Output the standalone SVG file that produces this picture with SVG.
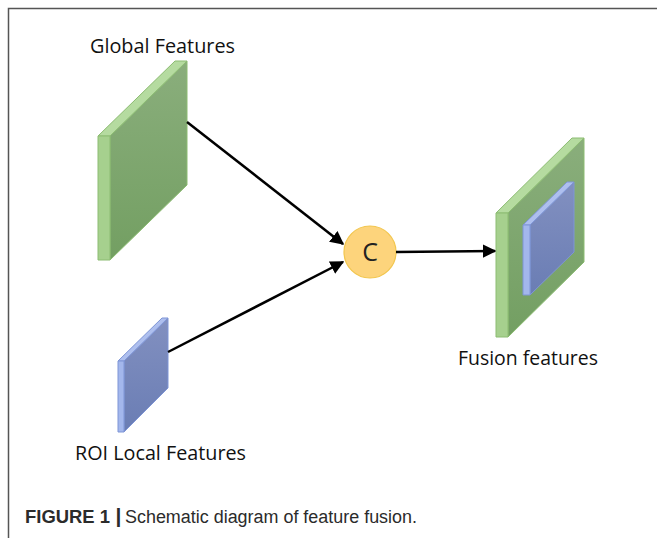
<svg xmlns="http://www.w3.org/2000/svg" width="657" height="538" viewBox="0 0 657 538">
  <style>
    .lbl { font-family: "Open Sans", "Liberation Sans", Arial, sans-serif; font-size: 20.5px; fill: #111; }
    .front-g { fill: #a6d08e; stroke: #8cbc72; stroke-width: 1; }
    .top-g { fill: #b5dba0; stroke: #8cbc72; stroke-width: 1; }
    .side-g { fill: url(#gSide); stroke: #8cbc72; stroke-width: 1; }
    .front-b { fill: #a3b7ec; stroke: #7e95d6; stroke-width: 1; }
    .top-b { fill: #aebfee; stroke: #7e95d6; stroke-width: 1; }
    .side-b { fill: url(#bSide); stroke: #7e95d6; stroke-width: 1; }
    .conn { stroke: #000; stroke-width: 2.5; fill: none; marker-end: url(#arrow); }
  </style>
  <defs>
    <linearGradient id="gSide" x1="0" y1="0" x2="0" y2="1">
      <stop offset="0" stop-color="#8aae7c"/>
      <stop offset="1" stop-color="#739f62"/>
    </linearGradient>
    <linearGradient id="bSide" x1="0" y1="0" x2="0" y2="1">
      <stop offset="0" stop-color="#8290c0"/>
      <stop offset="1" stop-color="#6a7db4"/>
    </linearGradient>
    <marker id="arrow" viewBox="0 0 10 10" refX="9" refY="5" markerWidth="5.5" markerHeight="5.5" orient="auto" markerUnits="strokeWidth">
      <path d="M0,0 L10,5 L0,10 z" fill="#000"/>
    </marker>
  </defs>

  <rect width="657" height="538" fill="#fff"/>
  <!-- frame -->
  <path d="M8.5,538 V8.5 H657" fill="none" stroke="#555" stroke-width="1.5"/>

  <!-- global feature slab -->
  <g id="global-features">
    <polygon class="side-g" points="110,136 187,61 187,185 110,260"/>
    <polygon class="top-g" points="98,136 175,61 187,61 110,136"/>
    <polygon class="front-g" points="98,136 110,136 110,260 98,260"/>
    <text class="lbl" x="90" y="53" textLength="145" lengthAdjust="spacingAndGlyphs">Global Features</text>
  </g>

  <!-- ROI local feature slab -->
  <g id="roi-features">
    <polygon class="side-b" points="124,361 168,318 168,388 124,432"/>
    <polygon class="top-b" points="118,361 162,318 168,318 124,361"/>
    <polygon class="front-b" points="118,361 124,361 124,432 118,432"/>
    <text class="lbl" x="75" y="460" textLength="171" lengthAdjust="spacingAndGlyphs">ROI Local Features</text>
  </g>

  <!-- concatenation node -->
  <g id="concat">
    <circle cx="370" cy="252" r="26" fill="#fdd47c" stroke="#f2c64e" stroke-width="1.2"/>
    <text x="370" y="261" text-anchor="middle" font-family="Open Sans, Liberation Sans, Arial, sans-serif" font-size="25" fill="#222">C</text>
  </g>

  <!-- fused feature slab -->
  <g id="fusion-features">
    <polygon class="side-g" points="508,213 584,138 584,262 508,337"/>
    <polygon class="top-g" points="496,213 572,138 584,138 508,213"/>
    <polygon class="front-g" points="496,213 508,213 508,337 496,337"/>
    <polygon class="side-b" points="530,225 574,182 574,252 530,295"/>
    <polygon class="top-b" points="523,225 567,182 574,182 530,225"/>
    <polygon class="front-b" points="523,225 530,225 530,295 523,295"/>
    <text class="lbl" x="458" y="365" textLength="140" lengthAdjust="spacingAndGlyphs">Fusion features</text>
  </g>

  <!-- connectors -->
  <g id="connectors">
    <line class="conn" x1="187" y1="122" x2="343" y2="244"/>
    <line class="conn" x1="168" y1="352" x2="343" y2="262"/>
    <line class="conn" x1="396" y1="252" x2="495" y2="251"/>
  </g>

  <!-- caption -->
  <g id="caption" font-family="Liberation Sans, Arial, sans-serif" font-size="18" fill="#2b2b2b">
    <text x="25" y="522.5" font-weight="bold" textLength="85" lengthAdjust="spacingAndGlyphs">FIGURE 1</text>
    <text x="115.5" y="522.5" font-weight="bold" font-size="21">|</text>
    <text x="125" y="522.5" textLength="292" lengthAdjust="spacingAndGlyphs">Schematic diagram of feature fusion.</text>
  </g>
</svg>
